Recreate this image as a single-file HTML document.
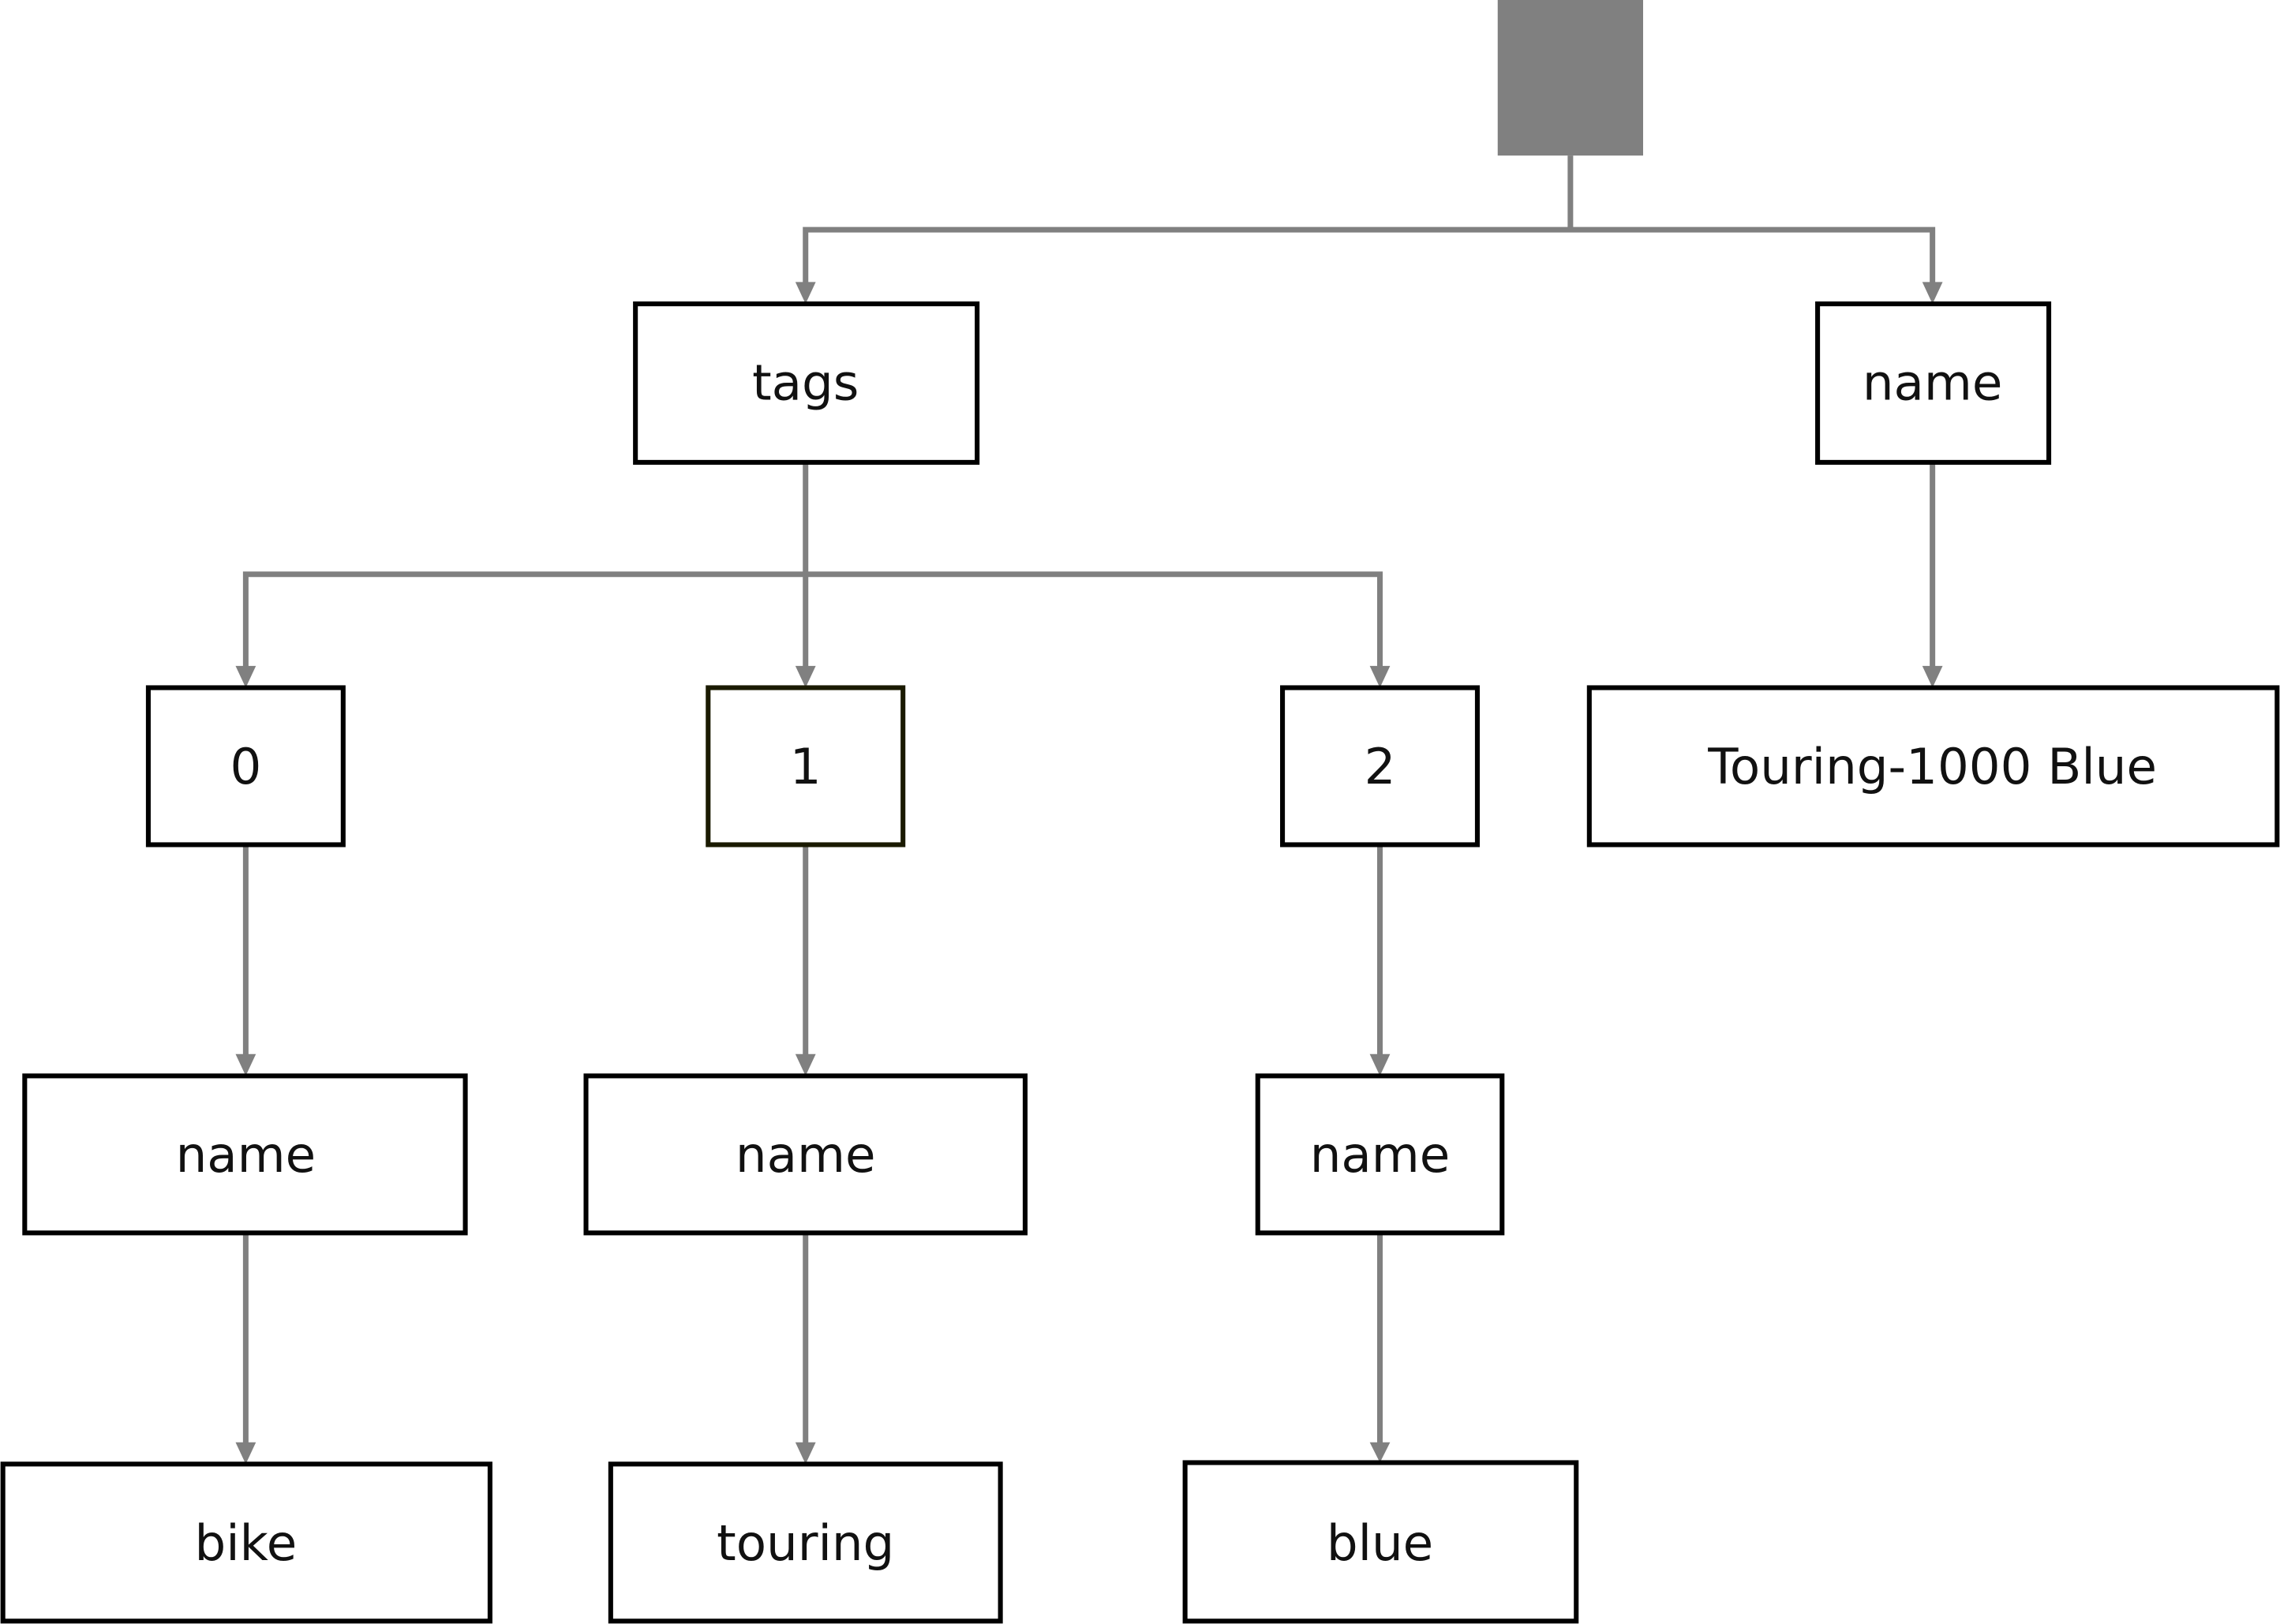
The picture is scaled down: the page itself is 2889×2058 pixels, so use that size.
<!DOCTYPE html>
<html><head><meta charset="utf-8"><style>html,body{margin:0;padding:0;background:#fff}svg{display:block}</style></head>
<body>
<svg width="2889" height="2058" viewBox="0 0 1568 1117" preserveAspectRatio="none" xmlns="http://www.w3.org/2000/svg">
<rect x="1030" y="0" width="100" height="107" fill="#808080"/>
<g stroke="#808080" stroke-width="3.8" fill="none">
<polyline points="1080,107 1080,158"/>
<polyline points="554,196 554,158 1329,158 1329,196"/>
<polyline points="554,318 554,459"/>
<polyline points="169,459 169,395 949,395 949,459"/>
<polyline points="1329,318 1329,459"/>
<polyline points="169,581 169,727"/>
<polyline points="554,581 554,727"/>
<polyline points="949,581 949,727"/>
<polyline points="169,848 169,994"/>
<polyline points="554,848 554,994"/>
<polyline points="949,848 949,994"/>
</g>
<g fill="#808080">
<polygon points="547,194 561,194 554,209"/>
<polygon points="1322,194 1336,194 1329,209"/>
<polygon points="162,458 176,458 169,473"/>
<polygon points="547,458 561,458 554,473"/>
<polygon points="942,458 956,458 949,473"/>
<polygon points="1322,458 1336,458 1329,473"/>
<polygon points="162,725 176,725 169,740"/>
<polygon points="547,725 561,725 554,740"/>
<polygon points="942,725 956,725 949,740"/>
<polygon points="162,992 176,992 169,1007"/>
<polygon points="547,992 561,992 554,1007"/>
<polygon points="942,992 956,992 949,1006"/>
</g>
<g stroke="#000" stroke-width="3.3" fill="#fff">
<rect x="437" y="209" width="235" height="109"/>
<rect x="1250" y="209" width="159" height="109"/>
<rect x="102" y="473" width="134" height="108"/>
<rect x="487" y="473" width="134" height="108" stroke="#1a1a00"/>
<rect x="882" y="473" width="134" height="108"/>
<rect x="1093" y="473" width="473" height="108"/>
<rect x="17" y="740" width="303" height="108"/>
<rect x="403" y="740" width="302" height="108"/>
<rect x="865" y="740" width="168" height="108"/>
<rect x="2" y="1007" width="335" height="108"/>
<rect x="420" y="1007" width="268" height="108"/>
<rect x="815" y="1006" width="269" height="109"/>
</g>
<g font-family="'DejaVu Sans','Liberation Sans',sans-serif" font-size="34" fill="#111" text-anchor="middle">
<text x="554" y="275">tags</text>
<text x="1329" y="275">name</text>
<text x="169" y="539">0</text>
<text x="554" y="539">1</text>
<text x="949" y="539">2</text>
<text x="1329" y="539">Touring-1000 Blue</text>
<text x="169" y="806">name</text>
<text x="554" y="806">name</text>
<text x="949" y="806">name</text>
<text x="169" y="1073">bike</text>
<text x="554" y="1073">touring</text>
<text x="949" y="1073">blue</text>
</g>
</svg>
</body></html>
